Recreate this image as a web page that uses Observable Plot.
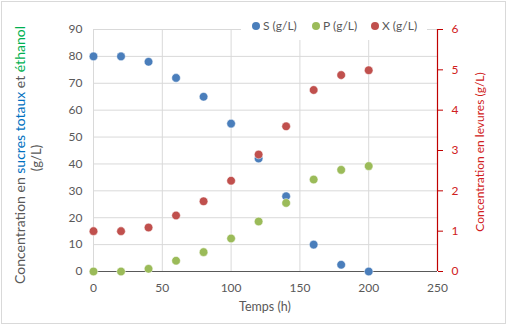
<!DOCTYPE html>
<html><head><meta charset="utf-8">
<script src="https://cdn.jsdelivr.net/npm/d3@7"></script>
<script src="https://cdn.jsdelivr.net/npm/@observablehq/plot@0.6"></script>
<style>
html,body{margin:0;padding:0;background:#fff;}
#wrap{position:relative;width:507px;height:325px;font-family:Lato,"Liberation Sans",sans-serif;overflow:hidden;}
#frame{position:absolute;left:1px;top:1px;width:505px;height:323px;box-sizing:border-box;border:1px solid #d9d9d9;pointer-events:none;}
#chart{position:absolute;left:0;top:0;}
#legend{position:absolute;left:241px;top:12px;width:186px;height:28px;background:#fff;font-size:12px;color:#595959;white-space:nowrap;}
#legend span.item{position:absolute;top:7px;display:inline-flex;align-items:center;line-height:14px;}
#legend span.sw{display:inline-block;width:8px;height:8px;border-radius:50%;margin-right:3px;}
</style>
</head><body>
<div id="wrap"><div id="chart"></div><div id="legend"></div><div id="frame"></div></div>
<script>
const time = [0, 20, 40, 60, 80, 100, 120, 140, 160, 180, 200];
const sugar = [80, 80, 78, 72, 65, 55, 42, 28, 10, 2.5, 0];
const ethanol = [0, 0, 1, 4, 7.2, 12.3, 18.6, 25.5, 34.2, 37.8, 39.2];
const yeast = [1.0, 1.0, 1.09, 1.39, 1.74, 2.25, 2.9, 3.6, 4.5, 4.87, 4.99];
const seriesNames = ["S (g/L)", "P (g/L)", "X (g/L)"];
const seriesColors = ["#4a7ebb", "#9bbb59", "#c0504d"];
const xTicks = [0, 50, 100, 150, 200, 250];
const leftTicks = [0, 10, 20, 30, 40, 50, 60, 70, 80, 90];
const rightTicks = [0, 1, 2, 3, 4, 5, 6];
const xLabel = "Temps (h)";
const rightLabel = "Concentration en levures (g/L)";

const ratio = 90 / 6;
const rows = time.map((t, i) => ({t, s: sugar[i], p: ethanol[i], x: yeast[i]}));
const red = "#c00000";

const plot = Plot.plot({
  width: 507, height: 325,
  marginLeft: 93, marginRight: 70, marginTop: 29, marginBottom: 54,
  style: {fontFamily: "Lato, 'Liberation Sans', sans-serif", fontSize: "12px", background: "transparent"},
  x: {domain: [0, 250]},
  y: {domain: [0, 90]},
  marks: [
    Plot.gridY(leftTicks, {stroke: "#d9d9d9", strokeOpacity: 1}),
    Plot.gridX(xTicks, {stroke: "#d9d9d9", strokeOpacity: 1}),
    Plot.ruleY([0], {stroke: "#595959", strokeWidth: 1.2}),
    Plot.axisY(leftTicks, {anchor: "left", tickSize: 0, tickPadding: 11, label: null, color: "#595959"}),
    Plot.axisX(xTicks, {anchor: "bottom", tickSize: 0, tickPadding: 12, label: null, color: "#595959"}),
    Plot.axisY(rightTicks.map(d => d * ratio), {anchor: "right", tickSize: 5, tickPadding: 9, label: null,
      tickFormat: d => String(Math.round(d / ratio)), stroke: red, color: "#d02020"}),
    Plot.ruleX([250], {y1: 0, y2: 90, stroke: red, strokeWidth: 1.2}),
    Plot.dot(rows, {x: "t", y: "s", r: 4.3, fill: seriesColors[0], stroke: "#fff", strokeWidth: 0.5}),
    Plot.dot(rows, {x: "t", y: "p", r: 4.3, fill: seriesColors[1], stroke: "#fff", strokeWidth: 0.5}),
    Plot.dot(rows, {x: "t", y: d => d.x * ratio, r: 4.3, fill: seriesColors[2], stroke: "#fff", strokeWidth: 0.5})
  ]
});
document.getElementById("chart").appendChild(plot);

const svg = d3.select(plot);
// x axis title
svg.append("text").attr("x", 265).attr("y", 311).attr("text-anchor", "middle")
  .attr("fill", "#595959").style("font-size", "12.5px").text(xLabel);
// left axis title (two lines, multi-colored)
const lt = svg.append("text").attr("transform", "translate(25,155) rotate(-90)")
  .attr("text-anchor", "middle").style("font-size", "14px");
lt.append("tspan").attr("fill", "#595959").text("Concentration en ");
lt.append("tspan").attr("fill", "#0070c0").text("sucres totaux");
lt.append("tspan").attr("fill", "#595959").text(" et ");
lt.append("tspan").attr("fill", "#00b050").text("éthanol");
svg.append("text").attr("transform", "translate(41,158) rotate(-90)")
  .attr("text-anchor", "middle").attr("fill", "#595959").style("font-size", "13px").text("(g/L)");
// right axis title
svg.append("text").attr("transform", "translate(484,152) rotate(-90)")
  .attr("text-anchor", "middle").attr("fill", "#d02020").style("font-size", "12px").text(rightLabel);

// legend
const lg = document.getElementById("legend");
const legendX = [11, 71, 130];
seriesNames.forEach((n, i) => {
  const it = document.createElement("span"); it.className = "item"; it.style.left = legendX[i] + "px";
  const sw = document.createElement("span"); sw.className = "sw"; sw.style.background = seriesColors[i];
  it.appendChild(sw); it.appendChild(document.createTextNode(n)); lg.appendChild(it);
});
</script>
</body></html>
